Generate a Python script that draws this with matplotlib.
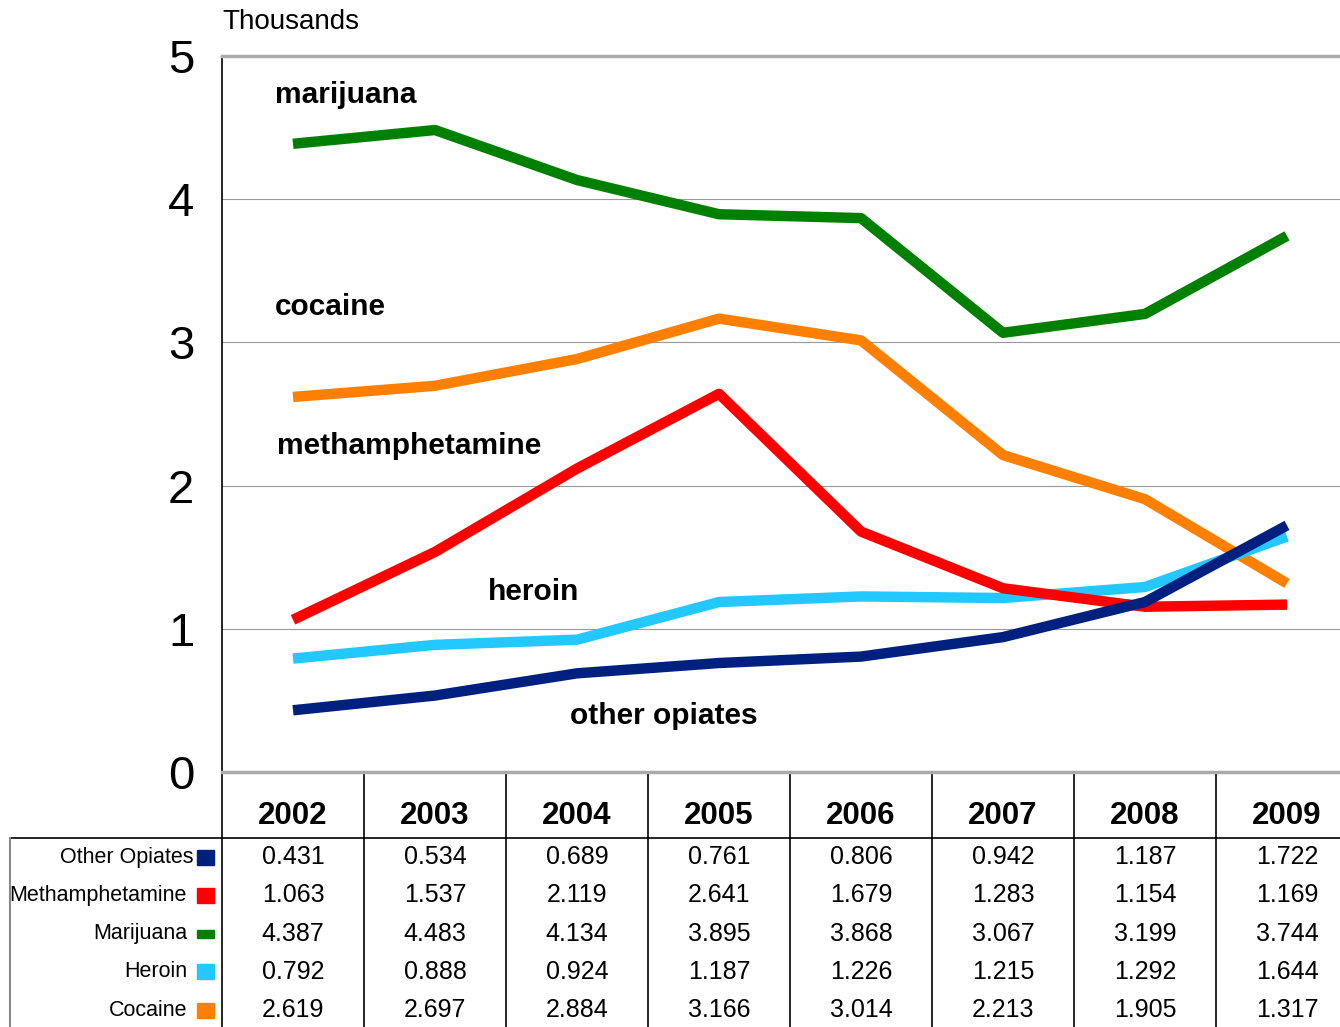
#! usr/bin/env python3
import numpy as np
import matplotlib.pyplot as plt
from matplotlib.patches import Rectangle

plt.rcParams['font.family'] = ['Liberation Sans', 'DejaVu Sans']

years = ["2002", "2003", "2004", "2005", "2006", "2007", "2008", "2009"]
series_names = ["Other Opiates", "Methamphetamine", "Marijuana", "Heroin", "Cocaine"]
other_opiates = [0.431, 0.534, 0.689, 0.761, 0.806, 0.942, 1.187, 1.722]
methamphetamine = [1.063, 1.537, 2.119, 2.641, 1.679, 1.283, 1.154, 1.169]
marijuana = [4.387, 4.483, 4.134, 3.895, 3.868, 3.067, 3.199, 3.744]
heroin = [0.792, 0.888, 0.924, 1.187, 1.226, 1.215, 1.292, 1.644]
cocaine = [2.619, 2.697, 2.884, 3.166, 3.014, 2.213, 1.905, 1.317]
series_values = [other_opiates, methamphetamine, marijuana, heroin, cocaine]
colors = ["#002080", "#ff0000", "#008000", "#22c8ff", "#ff8000"]
line_labels = ["other opiates", "methamphetamine", "marijuana", "heroin", "cocaine"]

W, H = 1340, 1027
fig = plt.figure(figsize=(W / 100, H / 100), dpi=100)

# plot area in pixels
left, right, top, bottom = 222, 1340, 56, 772
colw = 142
ax = fig.add_axes([left / W, 1 - bottom / H, (right - left) / W, (bottom - top) / H])
x = np.arange(len(years))
ax.set_xlim(-0.5, -0.5 + (right - left) / colw)
ax.set_ylim(0, 5)

for i in reversed(range(len(series_names))):
    ax.plot(x, series_values[i], color=colors[i], lw=7.5, solid_capstyle='butt', zorder=3)

# labels inside the plot
label_pos = {"marijuana": (-0.13, 4.73), "cocaine": (-0.13, 3.25),
             "methamphetamine": (-0.115, 2.28), "heroin": (1.37, 1.26),
             "other opiates": (1.95, 0.39)}
for name in line_labels:
    lx, ly = label_pos[name]
    ax.text(lx, ly, name, fontsize=21.5, fontweight='bold', va='center', ha='left', zorder=4)

ax.set_yticks([0, 1, 2, 3, 4, 5])
ax.set_yticklabels(["0", "1", "2", "3", "4", "5"], fontsize=34)
ax.tick_params(axis='y', length=0, pad=20)
ax.set_xticks([])
ax.grid(axis='y', color='#999999', lw=0.8)
ax.spines['right'].set_visible(False)
ax.spines['left'].set_color('black')
ax.spines['left'].set_linewidth(1.2)
ax.spines['top'].set_color('#aaaaaa')
ax.spines['top'].set_linewidth(2.5)
ax.spines['bottom'].set_color('#aaaaaa')
ax.spines['bottom'].set_linewidth(2.5)

fig.text(left / W, 1 - 22 / H, "Thousands", fontsize=20, ha='left', va='center')

# data table drawn in pixel coordinates
tab = fig.add_axes([0, 0, 1, 1], zorder=-1)
tab.set_xlim(0, W)
tab.set_ylim(H, 0)
tab.axis('off')

header_bot = 838
row_h = 38.3
tab.plot([10, W], [header_bot, header_bot], color='black', lw=1.2)
tab.plot([10, 10], [header_bot, H], color='#888888', lw=1.5)
for j in range(len(years) + 1):
    xb = left + j * colw
    tab.plot([xb, xb], [bottom, H], color='black', lw=1.2)

for j, yr in enumerate(years):
    tab.text(left + (j + 0.5) * colw, 816, yr, fontsize=22.5, fontweight='bold',
             ha='center', va='center')

for i, name in enumerate(series_names):
    yc = header_bot + 19 + i * row_h
    tab.text(193 if i == 0 else 187, yc, name, fontsize=15.5, ha='right', va='center')
    hgt = 8 if name == "Marijuana" else 15
    tab.add_patch(Rectangle((197, yc - hgt / 2), 17, hgt, color=colors[i]))
    for j in range(len(years)):
        tab.text(left + (j + 0.5) * colw, yc, "%.3f" % series_values[i][j],
                 fontsize=18, ha='center', va='center')

fig.savefig("out.png", dpi=100)
